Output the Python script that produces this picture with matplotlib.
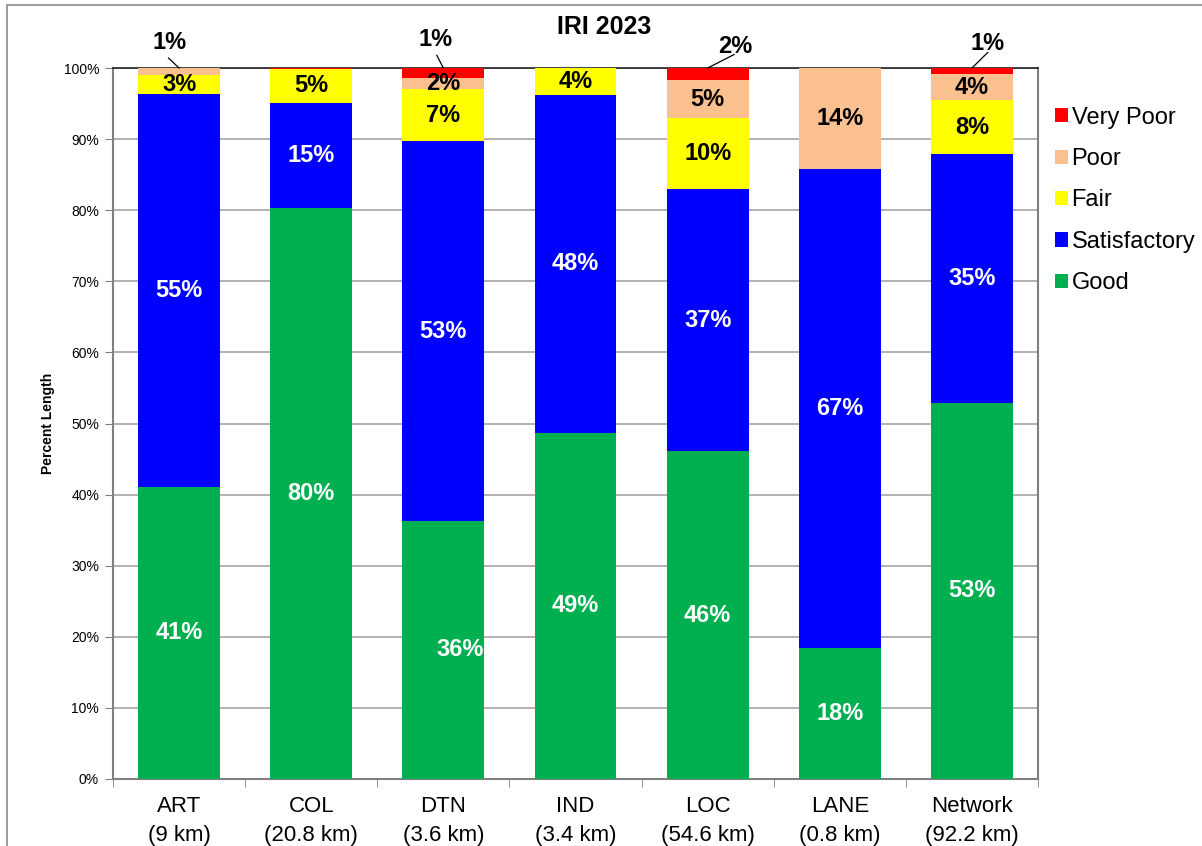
import numpy as np
import matplotlib.pyplot as plt
from matplotlib.patches import Patch, Rectangle

plt.rcParams['font.family'] = ['Liberation Sans', 'DejaVu Sans']

categories = ["ART\n(9 km)", "COL\n(20.8 km)", "DTN\n(3.6 km)", "IND\n(3.4 km)",
              "LOC\n(54.6 km)", "LANE\n(0.8 km)", "Network\n(92.2 km)"]
conditions = ["Good", "Satisfactory", "Fair", "Poor", "Very Poor"]
good = [41.1, 80.3, 36.3, 48.7, 46.1, 18.4, 52.9]
satisfactory = [55.2, 14.8, 53.4, 47.5, 36.9, 67.4, 35.0]
fair = [2.7, 4.8, 7.3, 3.8, 9.9, 0.0, 7.6]
poor = [1.0, 0.0, 1.6, 0.0, 5.4, 14.2, 3.6]
very_poor = [0.0, 0.1, 1.4, 0.0, 1.7, 0.0, 0.9]
colors = ["#00B050", "#0000FF", "#FFFF00", "#FAC090", "#FF0000"]
label_colors = ["white", "white", "black", "black", "black"]

# small segments labelled above the bar with a leader line:
# (bar index, series index, text offset x, text y, line start x, line start y)
callouts = [(0, 3, -0.07, 103.6, -0.08, 101.4),
            (2, 4, -0.06, 104.0, -0.05, 101.8),
            (4, 4, 0.21, 103.0, 0.20, 101.9),
            (6, 4, 0.12, 103.4, 0.12, 102.2)]

series = [good, satisfactory, fair, poor, very_poor]

fig = plt.figure(figsize=(12.02, 8.46), dpi=100)
ax = fig.add_axes([0.094, 0.0792, 0.7696, 0.8404])
fig.patches.append(Rectangle((0.006, -0.01), 1.0, 1.004, transform=fig.transFigure,
                             fill=False, edgecolor="#8c8c8c", lw=1.2))

x = np.arange(len(categories))
bottom = np.zeros(len(categories))
handles = []
callout_set = {(c[0], c[1]) for c in callouts}
for si, (name, vals, col) in enumerate(zip(conditions, series, colors)):
    vals = np.array(vals)
    ax.bar(x, vals, bottom=bottom, width=0.62, color=col, edgecolor="none", zorder=3)
    for i, v in enumerate(vals):
        if v < 1.2 or (i, si) in callout_set:
            continue
        dx = 0.13 if (i == 2 and si == 0) else 0.0
        ax.text(x[i] + dx, bottom[i] + v / 2, f"{v:.0f}%", ha="center", va="center",
                fontsize=17, fontweight="bold", color=label_colors[si], zorder=4)
    bottom += vals
    handles.append(Patch(facecolor=col, label=name))

for i, si, tx, ty, lx, ly in callouts:
    v = series[si][i]
    ax.annotate(f"{v:.0f}%", xy=(x[i], 100), xytext=(x[i] + tx, ty),
                ha="center", va="center", fontsize=17, fontweight="bold",
                annotation_clip=False)
    ax.plot([x[i] + lx, x[i]], [ly, 100], color="black", lw=0.9, clip_on=False, zorder=5)

ax.set_xlim(-0.5, len(categories) - 0.5)
ax.set_ylim(0, 100)
ax.set_yticks(np.arange(0, 101, 10))
ax.set_yticklabels([f"{t}%" for t in range(0, 101, 10)], fontsize=10)
ax.set_xticks(x)
ax.set_xticklabels(categories, fontsize=16, linespacing=1.5)
ax.tick_params(axis="x", length=0, pad=12)
ax.set_xticks(np.arange(-0.5, len(categories), 1), minor=True)
ax.tick_params(axis="x", which="minor", length=6, color="#808080")
ax.tick_params(axis="y", length=6, color="#808080", pad=4)
ax.yaxis.grid(True, color="#a6a6a6", lw=1.2, zorder=0)
ax.set_axisbelow(True)
for side in ("left", "bottom", "right"):
    ax.spines[side].set_color("#808080")
    ax.spines[side].set_linewidth(1.5)
ax.spines["top"].set_color("#222222")
ax.spines["top"].set_linewidth(1.2)

ax.set_ylabel("Percent Length", fontsize=10, fontweight="bold", labelpad=6)
fig.text(0.503, 0.968, "IRI 2023", ha="center", va="center", fontsize=18, fontweight="bold")

ax.legend(handles=handles[::-1], loc="upper left", bbox_to_anchor=(0.8695, 0.885),
          bbox_transform=fig.transFigure, frameon=False, fontsize=17,
          handlelength=0.55, handleheight=0.55, handletextpad=0.17, labelspacing=0.82,
          borderaxespad=0)

fig.savefig("out.png", dpi=100)
